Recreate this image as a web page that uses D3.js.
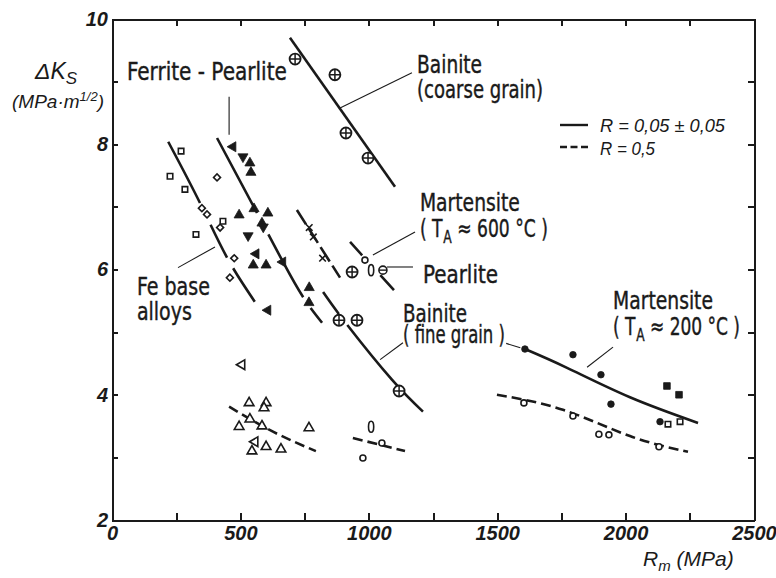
<!DOCTYPE html>
<html>
<head>
<meta charset="utf-8">
<title>Delta Ks vs Rm</title>
<script src="https://cdn.jsdelivr.net/npm/d3@7"></script>
<style>
	body { margin: 0; background: #fff; }
	svg { display: block; }
	.axis path, .axis line { stroke: #1a1a1a; stroke-width: 2; shape-rendering: crispEdges; }
	.axis text { font-family: "Liberation Sans", Arial, sans-serif; font-style: italic; font-size: 20px; fill: #1a1a1a; }
	.lbl { font-family: "Liberation Sans Narrow", "DejaVu Sans Condensed", sans-serif; font-size: 25px; fill: #1a1a1a; stroke: #1a1a1a; stroke-width: 0.4; }
	.ital { font-family: "Liberation Sans", Arial, sans-serif; font-style: italic; fill: #1a1a1a; }
</style>
</head>
<body>
<script>
const width = 776, height = 578;
const pLeft = 112, pRight = 754, pTop = 19, pBottom = 520;
const ink = "#1a1a1a";

// tick values
const xTicks = d3.range(0, 2501, 250);
const yTicks = d3.range(2, 11, 1);

// points [Rm, dKs]
const feSquares = [[226,7.49],[269,7.89],[284,7.28],[327,6.56],[432,6.77]];
const feDiamonds = [[350,6.98],[370,6.88],[409,7.47],[421,6.67],[476,6.18],[459,5.87]];
const fpUp = [[537,7.70],[541,7.55],[495,6.87],[553,6.97],[607,6.90],[584,6.74],[550,6.07],[600,6.07],[768,5.71],[767,5.47]];
const fpDown = [[510,7.80],[589,6.68],[530,6.54]];
const fpLeft = [[471,7.96],[561,6.25],[665,6.12],[607,5.35]];
const openTriUp = [[534,3.87],[600,3.87],[592,3.79],[495,3.49],[537,3.61],[584,3.50],[767,3.47],[545,3.10],[600,3.17],[658,3.13]];
const openTriLeft = [[506,4.48],[557,3.25]];
const crosses = [[768,6.67],[784,6.52],[820,6.18]];
const bainiteCoarse = [[713,9.36],[868,9.11],[911,8.18],[997,7.78]];
const bainiteFine = [[935,5.96],[884,5.19],[954,5.19],[1118,4.06]];
const openCircles = [[985,6.15],[1051,3.23],[977,2.99],[1604,3.87],[1795,3.66],[1896,3.37],[1935,3.36],[2130,3.17]];
const ovals = [[1009,5.99],[1009,3.49]];
const pearlite = [[1055,5.99]];
const filledCircles = [[1608,4.73],[1795,4.64],[1904,4.32],[1943,3.85],[2134,3.57]];
const filledSquares = [[2161,4.14],[2208,4.00]];
const openSquares = [[2165,3.53],[2212,3.57]];

// fitted curves, R = 0.05
const feLine = [[219,8.04],[343,7.06],[448,6.19],[557,5.48]];
const fpLine = [[409,8.10],[565,6.90],[666,6.12],[744,5.56],[818,5.15]];
const crossLine = [[720,6.95],[888,5.87]];
const coarseLine = [[693,9.70],[1102,7.32]];
const fineLine = [[822,5.64],[915,5.12],[1090,4.24],[1211,3.73]];
const mart600Line = [[927,6.44],[1098,5.67]];
const mart200Line = [[1608,4.73],[1772,4.43],[2017,3.96],[2282,3.55]];
// fitted curves, R = 0.5
const dashLeft = [[456,3.81],[627,3.41],[794,3.10]];
const dashMid = [[938,3.31],[1141,3.10]];
const dashRight = [[1499,4.0],[1756,3.76],[2017,3.34],[2243,3.09]];

let xScale = d3.scaleLinear().domain([0, 2500]).range([pLeft, pRight]);
let yScale = d3.scaleLinear().domain([2, 10]).range([pBottom, pTop]);

let svg = d3.select("body").append("svg")
	.attr("width", width)
	.attr("height", height)
	.style("background", "#fff");

// frame + ticks (all ticks point inward)
svg.append("g").attr("class", "axis")
	.attr("transform", "translate(0," + pBottom + ")")
	.call(d3.axisBottom(xScale).tickValues(xTicks).tickSizeInner(-7).tickSizeOuter(0).tickPadding(6)
		.tickFormat(function(d){ return d % 500 === 0 ? d : ""; }));
svg.append("g").attr("class", "axis")
	.attr("transform", "translate(0," + pTop + ")")
	.call(d3.axisTop(xScale).tickValues(xTicks).tickSizeInner(-7).tickSizeOuter(0).tickFormat(""));
svg.append("g").attr("class", "axis")
	.attr("transform", "translate(" + pLeft + ",0)")
	.call(d3.axisLeft(yScale).tickValues(yTicks).tickSizeInner(-6).tickSizeOuter(0).tickPadding(4)
		.tickFormat(function(d){ return d % 2 === 0 ? d : ""; }));
svg.append("g").attr("class", "axis")
	.attr("transform", "translate(" + pRight + ",0)")
	.call(d3.axisRight(yScale).tickValues(yTicks).tickSizeInner(-6).tickSizeOuter(0).tickFormat(""));
svg.selectAll(".axis .domain").attr("stroke-width", 2.2);
svg.selectAll(".axis text").attr("font-weight", "bold").attr("fill", ink);

// curves
let line = d3.line()
	.x(function(d){ return xScale(d[0]); })
	.y(function(d){ return yScale(d[1]); })
	.curve(d3.curveNatural);

let curves = [
	[feLine, "69,24,37,12,40"],
	[fpLine, "85,24,72,13,19"],
	[crossLine, "17,5"],
	[coarseLine, null],
	[fineLine, "27,14,400"],
	[mart600Line, "18,27,21"],
	[mart200Line, null],
	[dashLeft, "10,5"],
	[dashMid, "10,5"],
	[dashRight, "10,5"]
];
svg.selectAll("path.curve")
	.data(curves)
	.enter()
	.append("path")
	.attr("class", "curve")
	.attr("d", function(d){ return line(d[0]); })
	.attr("fill", "none")
	.attr("stroke", ink)
	.attr("stroke-width", 2.6)
	.attr("stroke-dasharray", function(d){ return d[1]; });

// markers
function symbols(data, type, size, filled, rot){
	svg.append("g").selectAll("path")
		.data(data)
		.enter()
		.append("path")
		.attr("d", d3.symbol().type(type).size(size))
		.attr("transform", function(d){
			return "translate(" + xScale(d[0]) + "," + yScale(d[1]) + ") rotate(" + (rot || 0) + ")";
		})
		.attr("fill", filled ? ink : "#fff")
		.attr("stroke", ink)
		.attr("stroke-width", filled ? 0.8 : 1.6);
}
symbols(feSquares, d3.symbolSquare, 30, false);
symbols(openSquares, d3.symbolSquare, 30, false);
symbols(feDiamonds, d3.symbolSquare, 24, false, 45);
symbols(fpUp, d3.symbolTriangle, 44, true);
symbols(fpDown, d3.symbolTriangle, 44, true, 180);
symbols(fpLeft, d3.symbolTriangle, 44, true, -90);
symbols(openTriUp, d3.symbolTriangle, 40, false);
symbols(openTriLeft, d3.symbolTriangle, 40, false, -90);
symbols(crosses, d3.symbolTimes, 30, false);
symbols(filledCircles, d3.symbolCircle, 34, true);
symbols(filledSquares, d3.symbolSquare, 44, true);
symbols(openCircles, d3.symbolCircle, 28, false);

// circle with plus
function plusCircles(data, r){
	let g = svg.append("g").selectAll("g")
		.data(data)
		.enter()
		.append("g")
		.attr("transform", function(d){ return "translate(" + xScale(d[0]) + "," + yScale(d[1]) + ")"; });
	g.append("circle").attr("r", r).attr("fill", "#fff").attr("stroke", ink).attr("stroke-width", 1.8);
	g.append("path").attr("d", "M" + (-r) + ",0H" + r + "M0," + (-r) + "V" + r)
		.attr("stroke", ink).attr("stroke-width", 1.5);
}
plusCircles(bainiteCoarse, 5.5);
plusCircles(bainiteFine, 5.5);

svg.append("g").selectAll("ellipse")
	.data(ovals)
	.enter()
	.append("ellipse")
	.attr("cx", function(d){ return xScale(d[0]); })
	.attr("cy", function(d){ return yScale(d[1]); })
	.attr("rx", 2.6).attr("ry", 5.5)
	.attr("fill", "none").attr("stroke", ink).attr("stroke-width", 1.6);

let pg = svg.append("g").selectAll("g")
	.data(pearlite)
	.enter()
	.append("g")
	.attr("transform", function(d){ return "translate(" + xScale(d[0]) + "," + yScale(d[1]) + ")"; });
pg.append("circle").attr("r", 4).attr("fill", "#fff").attr("stroke", ink).attr("stroke-width", 1.6);
pg.append("path").attr("d", "M-4,0H4").attr("stroke", ink).attr("stroke-width", 1.4);

// leader lines
let leaders = [
	[[456,8.76],[456,8.15]],
	[[888,8.58],[1168,9.14]],
	[[257,6.03],[401,6.36]],
	[[1016,6.23],[1180,6.60]],
	[[1071,6.04],[1172,6.04]],
	[[1044,4.56],[1133,4.83]],
	[[1535,4.82],[1590,4.75]],
	[[1850,4.44],[1951,4.76]]
];
svg.append("g").selectAll("line")
	.data(leaders)
	.enter()
	.append("line")
	.attr("x1", function(d){ return xScale(d[0][0]); })
	.attr("y1", function(d){ return yScale(d[0][1]); })
	.attr("x2", function(d){ return xScale(d[1][0]); })
	.attr("y2", function(d){ return yScale(d[1][1]); })
	.attr("stroke", ink)
	.attr("stroke-width", 1.1);

// labels
function label(txt, x, y, w, sub, rest){
	let t = svg.append("text").attr("class", "lbl")
		.attr("x", xScale(x)).attr("y", yScale(y))
		.attr("textLength", w).attr("lengthAdjust", "spacingAndGlyphs");
	t.append("tspan").text(txt);
	if(sub){
		t.append("tspan").attr("font-size", "18px").attr("dx", 1).attr("dy", 6).text(sub);
		t.append("tspan").attr("dy", -6).text(rest);
	}
}
label("Ferrite - Pearlite", 58, 9.03, 160);
label("Bainite", 1188, 9.14, 65);
label("(coarse grain)", 1188, 8.74, 126);
label("Martensite", 1199, 6.94, 100);
label("( T", 1199, 6.52, 128, "A", " \u2248 600 \u00b0C )");
label("Pearlite", 1211, 5.79, 75);
label("Fe base", 97, 5.59, 73);
label("alloys", 97, 5.19, 55);
label("Bainite", 1133, 5.16, 64);
label("( fine grain )", 1133, 4.83, 102);
label("Martensite", 1951, 5.37, 100);
label("( T", 1951, 4.96, 127, "A", " \u2248 200 \u00b0C )");

// axis titles
let yt = svg.append("text").attr("class", "ital").attr("x", 35).attr("y", 79).attr("font-size", "23px");
yt.append("tspan").text("\u0394K");
yt.append("tspan").attr("font-size", "17px").attr("dy", 5).text("S");
let yu = svg.append("text").attr("class", "ital").attr("x", 12).attr("y", 108).attr("font-size", "19px");
yu.append("tspan").text("(MPa\u00b7m");
yu.append("tspan").attr("font-size", "13px").attr("dy", -7).text("1/2");
yu.append("tspan").attr("dy", 7).text(")");

let xt = svg.append("text").attr("class", "ital").attr("x", 643).attr("y", 566).attr("font-size", "21px");
xt.append("tspan").text("R");
xt.append("tspan").attr("font-size", "15px").attr("dy", 5).text("m");
xt.append("tspan").attr("dy", -5).text(" (MPa)");

// legend
svg.append("line").attr("x1", 560).attr("x2", 588).attr("y1", 125).attr("y2", 125)
	.attr("stroke", ink).attr("stroke-width", 2.4);
svg.append("line").attr("x1", 560).attr("x2", 588).attr("y1", 147).attr("y2", 147)
	.attr("stroke", ink).attr("stroke-width", 2.4).attr("stroke-dasharray", "7,3.5");
svg.append("text").attr("class", "ital").attr("x", 600).attr("y", 132).attr("font-size", "19px")
	.attr("textLength", 125).attr("lengthAdjust", "spacingAndGlyphs").text("R = 0,05 \u00b1 0,05");
svg.append("text").attr("class", "ital").attr("x", 600).attr("y", 155).attr("font-size", "19px")
	.attr("textLength", 55).attr("lengthAdjust", "spacingAndGlyphs").text("R = 0,5");
</script>
</body>
</html>
